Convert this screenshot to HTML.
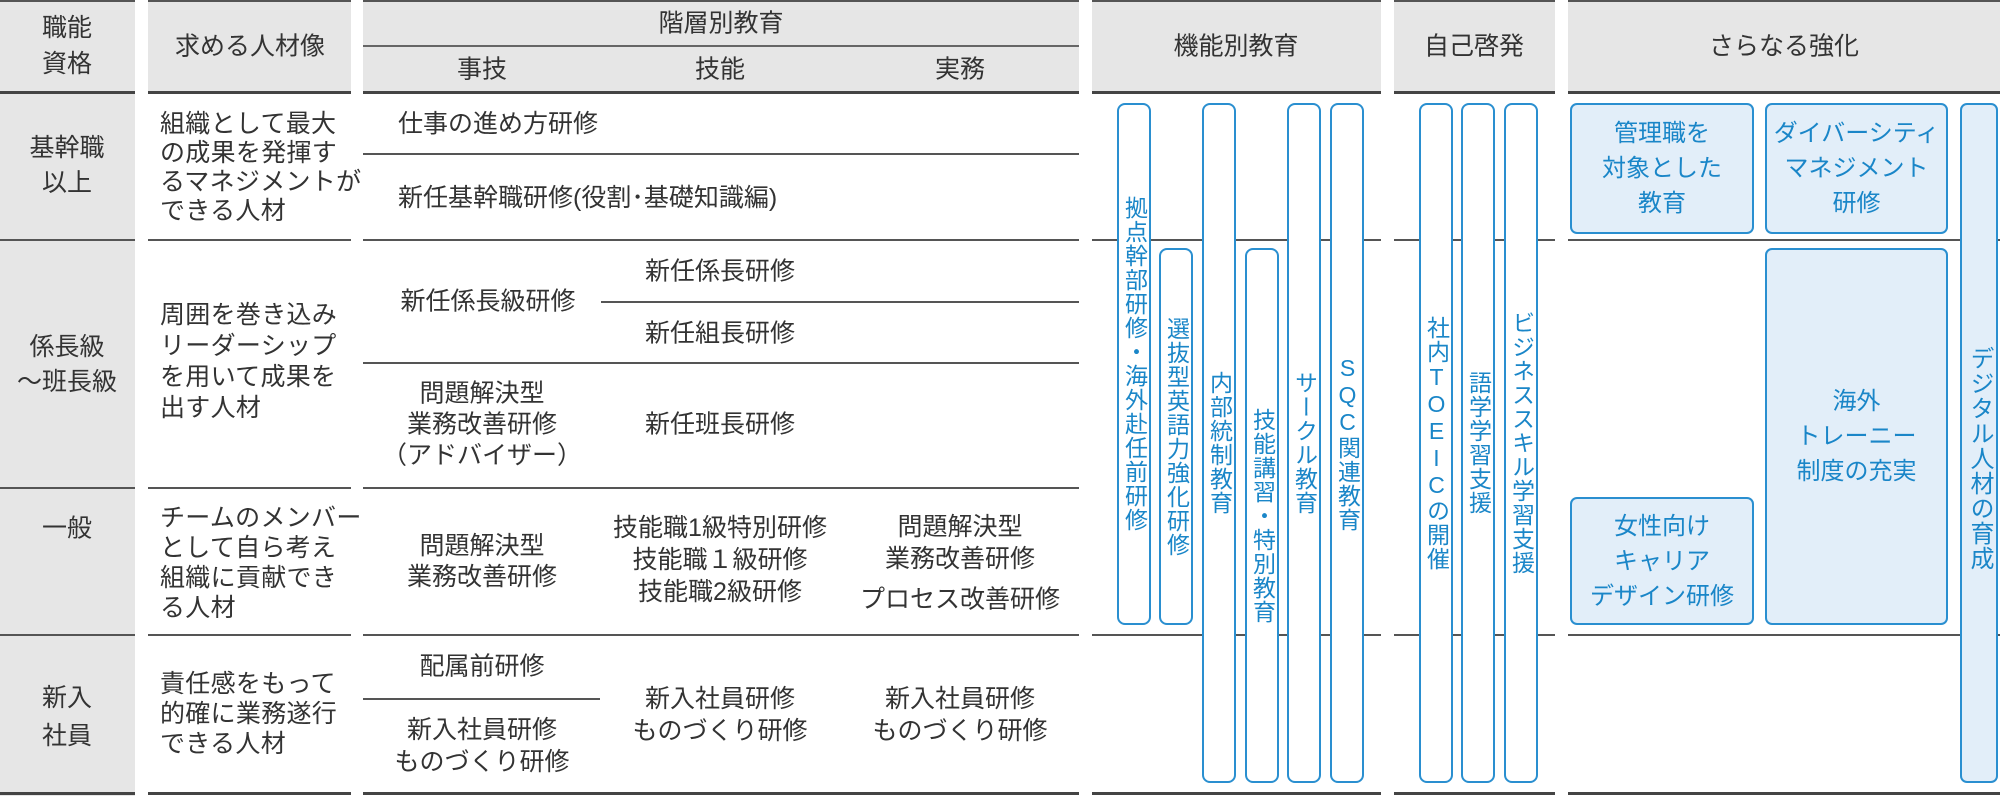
<!DOCTYPE html>
<html><head><meta charset="utf-8">
<style>
html,body{margin:0;padding:0;background:#fff;}
#c{position:relative;width:2000px;height:796px;overflow:hidden;font-family:"Liberation Sans","Noto Sans CJK JP",sans-serif;color:#333;font-size:25px;}
.g{position:absolute;background:#e6e6e6;}
.h{position:absolute;height:3px;background:#444;}
.hl{position:absolute;height:2px;background:#555;}
.t{position:absolute;transform:translate(-50%,-50%);text-align:center;white-space:nowrap;line-height:31px;}
.l{position:absolute;white-space:nowrap;line-height:30px;transform:translateY(-50%);}
.bar{position:absolute;background:#fff;border:2px solid #2a8fd0;border-radius:8px;box-sizing:border-box;display:flex;align-items:center;justify-content:center;color:#1a86c8;}
.bar span{writing-mode:vertical-rl;text-orientation:upright;font-size:23px;letter-spacing:1px;line-height:1;}
.box{position:absolute;background:#e2eef9;border:2px solid #2a8fd0;border-radius:7px;box-sizing:border-box;display:flex;align-items:center;justify-content:center;text-align:center;color:#1a86c8;line-height:35px;font-size:24px;}
</style></head><body><div id="c">
<div class="g" style="left:0;top:0;width:135px;height:796px;"></div>
<div class="g" style="left:148px;top:0;width:203px;height:93px;"></div>
<div class="g" style="left:363px;top:0;width:716px;height:93px;"></div>
<div class="g" style="left:1092px;top:0;width:289px;height:93px;"></div>
<div class="g" style="left:1394px;top:0;width:161px;height:93px;"></div>
<div class="g" style="left:1568px;top:0;width:432px;height:93px;"></div>

<div class="hl" style="left:0;top:0;width:135px;"></div>
<div class="hl" style="left:148px;top:0;width:203px;"></div>
<div class="hl" style="left:363px;top:0;width:716px;"></div>
<div class="hl" style="left:1092px;top:0;width:289px;"></div>
<div class="hl" style="left:1394px;top:0;width:161px;"></div>
<div class="hl" style="left:1568px;top:0;width:432px;"></div>
<div class="hl" style="left:363px;top:45px;width:716px;background:#666;"></div>
<div class="h" style="left:0;top:91px;width:135px;"></div>
<div class="h" style="left:148px;top:91px;width:203px;"></div>
<div class="h" style="left:363px;top:91px;width:716px;"></div>
<div class="h" style="left:1092px;top:91px;width:289px;"></div>
<div class="h" style="left:1394px;top:91px;width:161px;"></div>
<div class="h" style="left:1568px;top:91px;width:432px;"></div>
<div class="hl" style="left:0;top:239px;width:135px;"></div>
<div class="hl" style="left:148px;top:239px;width:203px;"></div>
<div class="hl" style="left:363px;top:239px;width:716px;"></div>
<div class="hl" style="left:1092px;top:239px;width:289px;"></div>
<div class="hl" style="left:1394px;top:239px;width:161px;"></div>
<div class="hl" style="left:1568px;top:239px;width:432px;"></div>
<div class="hl" style="left:0;top:487px;width:135px;"></div>
<div class="hl" style="left:148px;top:487px;width:203px;"></div>
<div class="hl" style="left:363px;top:487px;width:716px;"></div>
<div class="hl" style="left:0;top:634px;width:135px;"></div>
<div class="hl" style="left:148px;top:634px;width:203px;"></div>
<div class="hl" style="left:363px;top:634px;width:716px;"></div>
<div class="hl" style="left:1092px;top:634px;width:289px;"></div>
<div class="hl" style="left:1394px;top:634px;width:161px;"></div>
<div class="hl" style="left:1568px;top:634px;width:432px;"></div>
<div class="h" style="left:0;top:792px;width:135px;"></div>
<div class="h" style="left:148px;top:792px;width:203px;"></div>
<div class="h" style="left:363px;top:792px;width:716px;"></div>
<div class="h" style="left:1092px;top:792px;width:289px;"></div>
<div class="h" style="left:1394px;top:792px;width:161px;"></div>
<div class="h" style="left:1568px;top:792px;width:432px;"></div>
<div class="hl" style="left:363px;top:153px;width:716px;"></div>
<div class="hl" style="left:601px;top:301px;width:478px;"></div>
<div class="hl" style="left:363px;top:362px;width:716px;"></div>
<div class="hl" style="left:363px;top:698px;width:237px;"></div>

<div class="t" style="left:67px;top:46px;line-height:36px;">職能<br>資格</div>
<div class="t" style="left:250px;top:47px;">求める人材像</div>
<div class="t" style="left:721px;top:24px;">階層別教育</div>
<div class="t" style="left:482px;top:70px;">事技</div>
<div class="t" style="left:720px;top:70px;">技能</div>
<div class="t" style="left:960px;top:70px;">実務</div>
<div class="t" style="left:1236px;top:47px;">機能別教育</div>
<div class="t" style="left:1474px;top:47px;">自己啓発</div>
<div class="t" style="left:1784px;top:47px;">さらなる強化</div>

<div class="t" style="left:67px;top:166px;line-height:35px;">基幹職<br>以上</div>
<div class="t" style="left:67px;top:365px;line-height:35px;">係長級<br>～班長級</div>
<div class="t" style="left:67px;top:529px;">一般</div>
<div class="t" style="left:67px;top:717px;line-height:38px;">新入<br>社員</div>

<div class="l" style="left:160px;top:168px;line-height:29px;letter-spacing:0.3px;">組織として最大<br>の成果を発揮す<br>るマネジメントが<br>できる人材</div>
<div class="l" style="left:160px;top:362px;line-height:31px;letter-spacing:0.3px;">周囲を巻き込み<br>リーダーシップ<br>を用いて成果を<br>出す人材</div>
<div class="l" style="left:160px;top:563px;line-height:30px;letter-spacing:0.3px;">チームのメンバー<br>として自ら考え<br>組織に貢献でき<br>る人材</div>
<div class="l" style="left:160px;top:714px;line-height:30px;letter-spacing:0.3px;">責任感をもって<br>的確に業務遂行<br>できる人材</div>

<div class="l" style="left:398px;top:124px;">仕事の進め方研修</div>
<div class="l" style="left:398px;top:198px;">新任基幹職研修(役割･基礎知識編)</div>
<div class="t" style="left:720px;top:272px;">新任係長研修</div>
<div class="t" style="left:720px;top:334px;">新任組長研修</div>
<div class="t" style="left:488px;top:302px;">新任係長級研修</div>
<div class="t" style="left:482px;top:425px;line-height:31px;">問題解決型<br>業務改善研修<br>（アドバイザー）</div>
<div class="t" style="left:720px;top:425px;">新任班長研修</div>
<div class="t" style="left:482px;top:562px;">問題解決型<br>業務改善研修</div>
<div class="t" style="left:720px;top:560px;line-height:32px;">技能職1級特別研修<br>技能職１級研修<br>技能職2級研修</div>
<div class="t" style="left:960px;top:543px;line-height:32px;">問題解決型<br>業務改善研修</div>
<div class="t" style="left:960px;top:600px;">プロセス改善研修</div>
<div class="t" style="left:482px;top:667px;">配属前研修</div>
<div class="t" style="left:482px;top:746px;line-height:32px;">新入社員研修<br>ものづくり研修</div>
<div class="t" style="left:720px;top:715px;line-height:32px;">新入社員研修<br>ものづくり研修</div>
<div class="t" style="left:960px;top:715px;line-height:32px;">新入社員研修<br>ものづくり研修</div>

<div class="bar" style="left:1117px;top:103px;width:34px;height:522px;"><span>拠点幹部研修・海外赴任前研修</span></div>
<div class="bar" style="left:1159px;top:248px;width:34px;height:377px;"><span>選抜型英語力強化研修</span></div>
<div class="bar" style="left:1202px;top:103px;width:34px;height:680px;"><span>内部統制教育</span></div>
<div class="bar" style="left:1245px;top:248px;width:34px;height:535px;"><span>技能講習・特別教育</span></div>
<div class="bar" style="left:1287px;top:103px;width:34px;height:680px;"><span>サークル教育</span></div>
<div class="bar" style="left:1330px;top:103px;width:34px;height:680px;"><span>SQC関連教育</span></div>
<div class="bar" style="left:1419px;top:103px;width:34px;height:680px;"><span>社内TOEICの開催</span></div>
<div class="bar" style="left:1461px;top:103px;width:34px;height:680px;"><span>語学学習支援</span></div>
<div class="bar" style="left:1504px;top:103px;width:34px;height:680px;"><span>ビジネススキル学習支援</span></div>
<div class="box" style="left:1570px;top:103px;width:184px;height:131px;">管理職を<br>対象とした<br>教育</div>
<div class="box" style="left:1765px;top:103px;width:183px;height:131px;">ダイバーシティ<br>マネジメント<br>研修</div>
<div class="box" style="left:1765px;top:248px;width:183px;height:377px;">海外<br>トレーニー<br>制度の充実</div>
<div class="box" style="left:1570px;top:497px;width:184px;height:128px;">女性向け<br>キャリア<br>デザイン研修</div>
<div class="box" style="left:1960px;top:103px;width:38px;height:680px;"><span style="writing-mode:vertical-rl;text-orientation:upright;letter-spacing:1px;line-height:1;padding-top:30px;">デジタル人材の育成</span></div>
</div></body></html>
